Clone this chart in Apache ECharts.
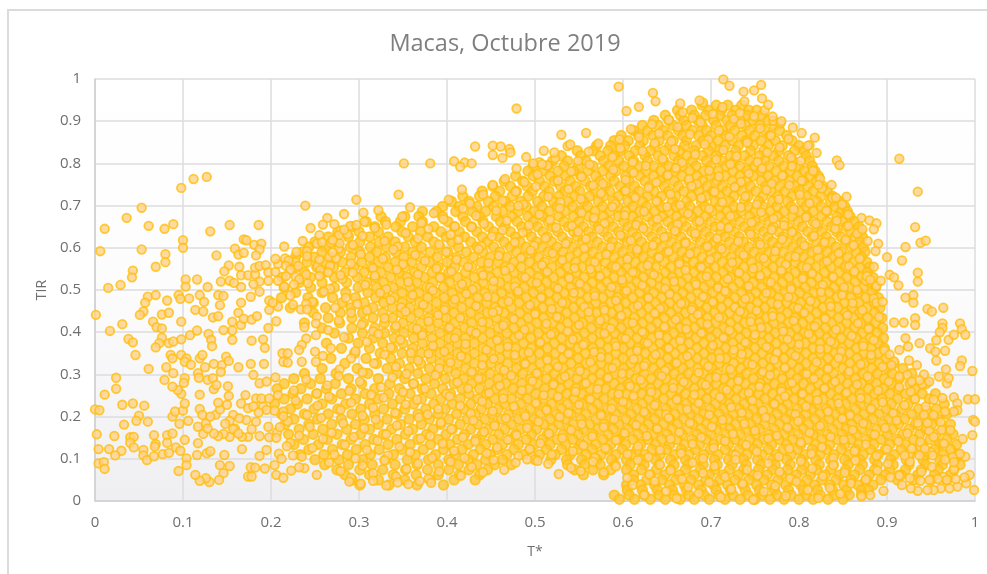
<!DOCTYPE html>
<html><head><meta charset="utf-8">
<style>html,body{margin:0;padding:0;background:#fff}#c{width:987px;height:574px}</style>
<script src="https://cdn.jsdelivr.net/npm/echarts@6/dist/echarts.min.js"></script>
</head><body><div id="c"></div>
<script>
const titleText = "Macas, Octubre 2019";
const xName = "T*";
const yName = "TIR";
// Isolated points: [T*, TIR] in thousandths
const sparseLeft = [[6,592],[11,645],[36,671],[53,695],[61,652],[79,645],[89,656],[98,742],[112,763],[127,768],[131,639],[153,654],[186,654],[239,700],[297,714],[345,726],[53,596],[100,618],[100,600],[80,585],[80,566],[69,555],[43,546],[42,530],[29,512],[15,505],[103,525],[103,508],[116,525],[128,507],[138,582],[152,558],[147,544],[143,520],[153,522],[164,555],[159,598],[163,584],[169,588],[169,620],[172,618],[181,607],[189,610],[187,596],[183,582],[215,603],[229,590],[236,616],[241,580],[245,647],[255,630],[264,671],[272,656],[259,655],[283,680],[305,683],[290,652],[297,654],[166,535],[174,535],[182,537],[182,553],[187,557],[194,559],[197,542],[205,543],[208,562],[205,574],[216,575],[220,570],[217,557],[222,548],[217,533],[208,522],[197,522],[187,520],[180,514],[166,507],[158,517],[231,557],[232,525],[226,513],[240,537],[255,572],[255,533],[267,557],[265,542],[279,535],[274,575],[270,589],[278,611],[277,630],[270,618],[252,610],[258,613],[287,632],[283,643],
[1,441],[31,419],[17,403],[38,384],[43,376],[46,346],[61,313],[24,292],[24,266],[11,252],[0,217],[5,215],[31,228],[43,231],[56,226],[50,202],[47,190],[60,188],[33,181],[2,158],[22,154],[40,151],[44,152],[40,138],[67,156],[69,135],[68,129],[4,123],[16,123],[30,119],[23,108],[44,127],[55,121],[55,108],[59,97],[67,106],[4,89],[10,92],[11,76],[77,111],[84,114],[82,156],[88,160],[82,138],[92,127],[97,119],[95,71],[102,145],[104,101],[104,85],[96,183],[106,190],[88,200],[91,212],[100,214],[102,231],[98,254],[94,263],[88,271],[79,287],[81,317],[89,303],[86,346],[88,338],[98,346],[104,338],[102,330],[109,323],[102,291],[101,280],[119,338],[122,346],[125,317],[117,303],[118,292],[119,252],[128,287],[134,291],[135,265],[138,275],[151,272],[152,249],[144,322],[143,306],[135,325],[149,342],[152,332],[163,317],[177,325],[180,299],[192,325],
[60,484],[57,470],[55,449],[51,441],[69,488],[82,475],[76,442],[84,446],[66,425],[70,412],[76,409],[76,387],[73,374],[69,364],[84,374],[89,378],[98,383],[98,425],[95,488],[97,479],[107,480],[108,393],[116,404],[114,453],[123,449],[119,488],[124,472],[140,488],[146,486],[142,464],[134,435],[140,438],[129,396],[132,382],[133,367],[146,405],[156,404],[156,382],[156,425],[163,446],[166,470],[177,484],[187,496],[166,417],[169,432],[178,430],[184,438],[178,380],[191,383],[193,363],[197,410],[206,426],[198,453],[198,475],[202,470],[225,465],[240,467],[241,454],[251,421],[251,393],[240,385],[235,370],[232,358],[235,330],[213,350],[219,350],[214,330],[219,328],[250,354],[251,330],[259,344],
[119,218],[122,204],[117,176],[123,159],[117,137],[116,109],[127,113],[131,118],[147,109],[142,85],[153,83],[146,66],[141,50],[130,45],[126,54],[119,48],[114,62],[167,123],[174,58],[178,58],[177,80],[182,79],[187,107],[193,77],[195,121],[198,151],[187,154],[197,176],[183,188],[174,152],[167,152],[159,172],[153,152],[146,159],[140,154],[135,160],[126,184],[137,204],[142,217],[150,228],[166,231],[171,251],[174,220],[172,192],[157,204],[153,190],[164,196],[157,170],[140,233],[183,243],[180,224],[191,224],[195,216],[189,243],[198,243],[187,279],[195,283],[205,293],[208,251],[204,214],[214,201],[148,183],[131,200],[128,172],[163,160],[178,170],[186,210],[210,175],[206,150],[218,130],[212,100],[204,85],[206,62],[214,55],[223,72],[232,80],[225,108]];
const sparseRight = [[595,982],[634,967],[637,947],[604,924],[618,934],[665,942],[687,949],[714,999],[757,986],[749,973],[721,984],[737,970],[758,954],[765,939],[770,911],[780,900],[793,885],[818,861],[810,842],[820,825],[843,807],[846,796],[914,811],[935,733],[822,749],[837,749],[854,721],[842,719],[871,671],[880,665],[888,658],[885,644],[872,644],[856,652],[862,606],[878,616],[890,610],[887,592],[900,578],[921,602],[932,649],[938,612],[944,617],[917,570],[885,555],[877,533],[881,524],[893,522],[903,536],[908,530],[913,511],[935,541],[935,520],[866,500],[921,482],[930,488],[888,470],[895,472],[946,455],[964,458],[930,470],[479,930],[432,840],[452,842],[461,840],[471,834],[472,826],[452,820],[463,813],[530,868],[510,830],[522,826],[558,872],[540,845],[498,800],[508,798],[351,800],[381,800],[408,805],[420,802],[415,792],[428,800],
[932,433],[932,417],[919,423],[908,423],[951,449],[963,421],[963,410],[960,400],[970,382],[976,394],[983,421],[985,407],[989,394],[956,381],[949,362],[955,354],[966,356],[956,333],[985,333],[983,320],[967,312],[997,308],[937,374],[921,386],[924,366],[914,358],[903,347],[905,322],[925,333],[934,322],[923,299],[914,295],[942,300],[937,286],[948,283],[959,295],[968,279],[970,291],[928,283],[976,246],[980,231],[980,215],[992,241],[1000,241],[998,192],[1000,188],[997,156],[986,147],[963,244],[953,240],[944,224],[942,204],[953,204],[966,212],[976,212],[935,185],[946,185],[962,168],[972,168],[953,152],[938,140],[965,136],[989,105],[983,112],[976,92],[966,98],[952,108],[943,124],[937,108],[928,124],[920,108],[994,62],[990,42],[999,26],[980,34],[971,30],[961,30],[953,26],[946,26],[935,24],[927,30],[917,38],[896,24],[881,14],[988,56],[978,52],[968,50],[958,52],[948,50],[938,48],[926,54],[914,60],[904,56]];
// Dense core: individual points cannot be resolved in the picture. These values are
// hand-typed estimates that follow its outline and density, not exact readings.
const denseLevels = [938,926,914,902,890,878,866,854,842,830,818,806,794,782,770,758,746,734,722,710,698,686,674,662,650,638,626,614,602,590,578,566,554,542,530,518,506,494,482,470,458,446,434,422,410,398,386,374,362,350,338,326,314,302,290,278,266,254,242,230,218,206,194,182,170,158,146,134,122,110,98,86,74,62,50,38,26,14,4];
const denseT = [
[690,706,719,735],
[662,678,697,712,728,743,752],
[648,665,681,694,710,724,741,758],
[635,652,669,685,703,718,733,748,765],
[622,640,657,672,690,706,722,739,755,772],
[612,628,646,663,679,695,713,727,744,761,778],
[598,618,634,651,668,686,700,717,735,750,767,786],
[590,606,623,641,657,672,691,708,724,740,757,773,792],
[570,586,602,619,636,653,670,683,700,716,731,748,765,781,800],
[548,566,583,597,614,631,647,664,681,697,710,728,745,760,777,795,806],
[530,552,574,590,607,625,640,658,673,690,706,722,738,755,771,788,808],
[520,537,558,578,595,612,628,646,663,679,695,712,727,744,761,777,793,812],
[498,515,533,549,566,584,601,618,635,652,668,683,700,717,733,750,766,783,800,815],
[492,509,526,544,560,577,592,610,626,643,659,676,692,708,725,741,757,774,790,806,818],
[478,498,517,535,552,569,586,603,619,635,650,667,684,700,716,733,748,765,782,798,812,822],
[465,486,505,522,540,557,574,590,607,625,642,658,675,690,707,724,740,757,772,789,805,820],
[452,472,491,511,529,546,563,580,597,613,630,647,663,680,696,713,730,745,762,778,795,810,827],
[440,460,479,497,516,534,551,568,585,602,618,635,652,669,686,702,718,735,751,768,784,800,816,832],
[418,437,455,474,492,510,527,545,562,578,595,612,628,644,660,678,694,710,726,742,759,776,792,809,825,838],
[405,425,447,466,484,503,521,538,555,572,589,606,622,639,656,672,689,705,721,738,754,770,787,803,820,836,846],
[395,414,434,453,472,490,508,525,543,560,577,594,611,627,643,660,676,693,710,726,742,759,775,791,808,825,841,852],
[372,388,410,429,444,463,481,499,516,534,551,568,585,603,619,636,652,669,685,701,718,734,750,767,783,800,816,832,848,855],
[325,352,368,395,418,437,456,474,492,509,527,544,561,578,595,611,628,645,661,678,694,711,727,744,760,776,793,809,826,843,858],
[308,330,347,372,401,421,441,461,480,498,515,533,550,567,584,601,617,634,651,667,684,700,717,733,750,766,783,799,816,832,849,863],
[292,318,342,361,385,408,428,447,466,485,503,520,538,555,572,589,606,622,639,656,672,689,705,722,738,755,771,788,804,821,837,854,868],
[276,300,322,349,370,393,414,434,453,472,491,509,526,544,561,578,595,611,628,644,661,678,694,711,727,744,760,777,793,810,826,843,859,870],
[265,288,312,333,356,378,399,420,440,459,478,496,514,531,548,565,583,600,616,633,650,666,683,699,716,732,749,765,782,798,815,831,848,864,872],
[250,275,301,323,341,364,385,406,427,446,465,483,502,519,537,554,571,588,605,621,638,655,671,688,704,721,737,754,770,787,803,820,836,853,869],
[243,262,290,313,331,352,371,392,413,434,453,472,490,508,525,543,560,577,594,611,627,644,661,677,694,710,727,743,760,776,793,809,826,842,859,873],
[236,258,279,301,320,342,361,381,401,422,441,460,479,497,515,532,549,566,583,600,617,633,650,667,683,700,716,733,749,766,782,799,815,832,848,865,875],
[228,249,268,291,312,330,351,370,389,411,430,449,468,486,504,522,539,556,573,590,607,623,640,657,673,690,706,723,739,756,772,789,805,822,838,855,871],
[222,241,262,281,303,322,341,360,380,400,419,439,458,476,494,511,529,546,563,580,597,614,630,647,664,680,697,713,730,746,763,779,796,812,829,845,862,877],
[228,252,271,294,314,333,352,371,390,409,428,447,466,484,502,519,536,553,570,587,604,621,637,654,671,687,704,720,737,753,770,786,803,819,836,852,869,880],
[238,260,284,306,325,345,363,383,402,421,439,457,476,494,512,529,547,564,581,598,614,631,648,664,681,697,714,730,747,763,780,796,813,829,846,862,878],
[213,245,272,298,318,336,355,374,393,412,431,449,468,486,504,521,538,556,573,590,606,623,640,656,673,689,706,722,739,755,772,788,805,821,838,854,871,884],
[232,258,286,309,328,347,366,384,403,422,441,460,478,496,513,531,548,565,582,599,616,632,649,666,682,699,715,732,748,765,781,798,814,831,847,864,880],
[215,245,272,299,320,339,358,377,396,414,433,452,470,488,506,523,541,558,575,592,609,625,642,659,675,692,708,725,741,758,774,791,807,824,840,857,873,887],
[228,258,285,310,329,349,368,387,406,425,443,462,480,498,516,533,551,568,585,602,619,635,652,668,685,702,718,735,751,768,784,801,817,834,850,867,883],
[212,242,270,296,319,340,359,378,397,416,435,454,472,490,508,525,543,560,577,594,611,628,644,661,677,694,711,727,744,760,777,793,810,826,843,859,876,890],
[248,281,306,328,349,369,388,407,426,445,463,482,500,517,535,552,569,586,603,620,637,653,670,687,703,720,736,753,769,786,802,819,835,852,868,885],
[222,262,291,316,338,358,378,398,417,436,455,473,491,509,527,544,561,578,595,612,629,646,662,679,695,712,728,745,761,778,794,811,827,844,860,877,892],
[248,279,304,327,348,368,388,408,427,446,465,483,501,518,536,553,570,587,604,621,638,654,671,688,704,721,737,754,770,787,803,820,836,853,869,886],
[265,292,316,338,359,379,399,418,437,456,474,492,510,528,545,562,579,596,613,630,647,663,680,696,713,730,746,763,779,796,812,829,845,862,878,894],
[238,278,305,329,350,370,390,409,428,447,466,484,502,520,537,554,572,589,606,622,639,656,672,689,705,722,738,755,771,788,804,821,837,854,870,887],
[258,292,318,341,361,381,401,420,439,458,476,494,512,529,547,564,581,598,615,632,648,665,682,698,715,731,748,764,781,797,814,830,847,863,880,895],
[272,304,329,351,372,392,411,430,449,468,486,504,522,539,556,574,591,607,624,641,658,674,691,707,724,740,757,773,790,806,823,839,856,872,889],
[288,316,340,362,383,402,421,440,459,477,495,513,530,548,565,582,599,616,633,650,666,683,700,716,733,749,766,782,799,815,832,848,865,881,896],
[263,299,327,350,372,392,412,431,450,469,487,505,522,540,557,574,591,608,625,642,658,675,692,708,725,741,758,774,791,807,824,840,857,873,890],
[280,312,338,361,382,402,421,441,460,478,496,514,531,549,566,583,600,617,634,650,667,684,700,717,733,750,766,783,799,816,832,849,865,882,897],
[295,324,349,371,392,412,431,450,469,487,505,523,540,557,575,592,609,625,642,659,675,692,709,725,742,758,775,791,808,824,841,857,874,890],
[268,308,336,360,382,402,422,441,460,478,496,514,532,549,566,583,600,617,634,651,668,684,701,717,734,750,767,783,800,816,833,849,866,882,899],
[284,320,346,370,392,412,431,450,469,488,506,523,541,558,575,592,609,626,643,659,676,693,709,726,742,759,775,792,808,825,841,858,874,891,908],
[258,298,332,357,380,401,421,441,460,479,497,515,532,550,567,584,601,618,635,651,668,685,701,718,734,751,767,784,800,817,833,850,866,883,900,918],
[238,274,310,343,367,389,410,430,449,468,486,504,522,539,557,574,591,607,624,641,658,674,691,707,724,740,757,773,790,806,823,839,856,872,889,906,928],
[226,256,288,322,352,376,398,419,439,458,476,495,513,530,548,565,582,599,615,632,649,666,682,699,715,732,748,765,781,798,814,831,847,864,880,897,914],
[215,245,273,303,335,362,386,408,428,448,467,485,503,521,538,556,573,590,606,623,640,657,673,690,706,723,739,756,772,789,805,822,838,855,871,888,905,926,944],
[207,234,263,291,318,346,372,395,417,437,456,475,493,511,529,546,563,580,597,614,631,647,664,681,697,714,730,747,763,780,796,813,829,846,862,879,896,913,932],
[225,252,280,307,334,358,382,404,425,445,464,483,501,519,536,553,571,588,604,621,638,655,671,688,704,721,737,754,770,787,803,820,836,853,869,886,903,921,940,955],
[215,241,269,296,322,347,371,393,415,435,454,473,491,509,527,544,561,578,595,612,629,646,662,679,695,712,728,745,761,778,794,811,827,844,860,877,894,912,931,948],
[204,230,258,285,312,338,362,385,406,427,446,465,484,502,519,537,554,571,588,605,622,638,655,672,688,705,721,738,754,771,787,804,820,837,853,870,887,905,924,965],
[222,249,276,302,328,352,376,398,419,439,458,477,495,513,530,548,565,582,599,616,632,649,666,682,699,715,732,748,765,781,798,814,831,847,864,881,899,917,936,956],
[212,238,265,292,318,343,367,390,411,432,451,470,488,506,524,541,558,575,592,609,626,642,659,676,692,709,725,742,758,775,791,808,824,841,857,874,891,909,928,947,968],
[226,253,280,306,332,357,380,402,423,443,462,481,499,517,534,552,569,586,603,619,636,653,669,686,702,719,735,752,768,785,801,818,834,851,867,884,902,920,939,958],
[216,243,269,296,322,347,371,393,415,435,454,473,492,510,527,544,562,579,595,612,629,646,662,679,695,712,728,745,761,778,794,811,827,844,860,877,895,913,932,951,972],
[232,259,286,312,337,361,384,406,427,447,466,484,502,520,538,555,572,589,606,623,639,656,673,689,706,722,739,755,772,788,805,821,838,854,871,888,906,925,944,964],
[220,248,275,302,328,353,377,399,420,440,459,478,496,514,532,549,566,583,600,617,634,650,667,684,700,717,733,750,766,783,799,816,832,849,865,882,900,918,937,956,975],
[237,264,291,317,343,367,390,412,433,452,471,490,508,525,543,560,577,594,611,628,644,661,678,694,711,727,744,760,777,793,810,826,843,859,876,893,911,930,949,968],
[226,254,281,307,333,358,381,403,424,444,463,481,499,517,535,552,569,586,603,620,637,653,670,687,703,720,736,753,769,786,802,819,835,852,868,885,903,921,940,960,979],
[243,270,297,323,349,373,396,417,438,457,476,494,513,530,548,565,582,599,616,633,649,666,682,699,716,732,749,765,782,798,815,831,848,864,881,898,916,935,954,972],
[233,260,287,313,339,364,387,409,430,449,468,487,505,523,540,558,575,592,609,625,642,659,675,692,708,725,741,758,774,791,807,824,840,857,873,890,908,926,945,964,981],
[250,277,304,330,355,379,402,424,444,463,500,518,536,553,570,587,604,621,637,654,671,687,704,720,737,753,770,786,803,819,836,852,869,886,904,922,941,960,977],
[261,288,315,341,366,390,413,434,454,473,537,556,574,591,608,624,641,658,674,691,707,724,740,757,773,790,806,823,839,856,872,889,907,925,944,963,983],
[275,301,327,353,378,402,425,446,545,566,586,604,621,638,654,671,688,704,721,737,754,770,787,803,820,836,853,869,886,903,921,939,958,976],
[284,312,339,365,390,414,437,555,578,612,631,648,664,681,698,714,731,747,764,780,797,813,830,846,863,880,898,916,935,954,972],
[292,322,352,381,408,432,612,627,644,660,677,694,710,727,743,760,776,793,809,826,842,859,876,893,912,931,950,968],
[301,334,366,396,604,620,636,653,670,686,703,719,736,752,769,785,802,818,835,851,867,884],
[605,622,639,656,672,689,706,722,739,755,772,788,805,821,838,854,871,879],
[590,607,624,641,658,675,692,709,725,742,758,775,791,808,824,840,857,871],
[596,613,631,648,665,681,698,716,733,750,767,783,800,816,833,850]
];
// More hand-typed estimates for the dense core, alternating T*, TIR in thousandths
const cloudPairs = [
652,903,668,921,679,908,691,944,702,917,713,933,726,905,738,947,749,912,761,926,771,901,733,919,
596,857,609,881,618,862,633,893,641,871,655,852,662,886,676,869,688,897,697,856,709,878,721,863,734,894,742,851,756,883,768,866,779,895,788,858,803,872,
490,815,505,803,523,812,537,841,549,806,561,828,572,847,588,815,597,836,611,803,622,829,636,848,645,811,659,834,667,802,682,821,693,845,706,809,714,832,729,817,741,849,753,803,764,826,778,838,791,814,802,806,812,843,
466,763,479,788,488,756,503,774,514,795,526,759,541,781,553,768,562,797,577,752,589,785,603,761,612,778,626,794,638,755,651,772,660,789,675,763,684,751,698,783,709,769,722,798,734,756,743,776,758,788,769,752,781,771,792,793,803,759,816,782,824,764,
402,714,417,738,426,705,441,726,452,749,463,712,478,733,487,703,501,745,515,721,529,708,538,739,552,716,566,748,575,729,591,704,603,735,614,719,629,742,638,710,654,727,665,701,678,746,689,718,704,733,713,708,727,744,739,722,752,703,763,737,777,715,789,748,801,726,812,706,826,741,838,718,849,703,
306,662,322,689,331,655,349,674,358,696,371,659,385,682,396,668,409,651,418,693,433,676,442,657,456,688,468,664,481,699,493,653,505,679,517,666,528,694,542,652,553,683,567,671,579,658,588,697,602,677,615,654,624,686,639,668,650,697,662,656,674,681,687,663,698,692,711,651,722,675,734,696,746,660,757,684,771,669,783,653,794,691,808,672,819,657,831,688,843,664,856,679,
268,612,279,641,293,607,304,628,318,647,329,616,344,603,353,635,367,622,379,645,391,608,404,631,413,619,428,649,439,604,451,627,463,642,477,613,486,636,499,605,512,623,524,648,535,610,549,638,558,621,573,644,586,602,597,630,609,617,623,646,634,606,647,625,659,640,671,611,682,634,696,603,707,622,720,647,731,615,745,632,756,608,769,643,781,620,792,637,806,605,817,628,829,613,841,645,853,619,866,634,
228,566,241,592,253,557,266,578,277,598,291,563,302,585,316,552,327,574,339,596,350,561,364,583,375,569,388,551,399,590,411,572,424,555,436,597,447,564,459,581,472,553,484,576,495,594,508,559,520,587,531,571,545,552,556,599,568,566,581,584,592,555,605,573,616,596,628,558,641,577,652,591,664,562,676,586,689,554,699,572,712,597,724,565,737,583,748,551,760,575,773,592,785,560,796,579,809,553,821,595,832,568,845,587,857,556,869,574,
215,508,228,531,242,516,256,547,267,503,281,526,293,541,307,512,318,534,331,502,343,548,356,519,367,537,381,506,392,529,405,544,417,514,429,501,441,535,453,521,466,546,477,508,489,530,502,517,514,543,526,504,539,528,551,515,563,549,574,533,587,507,599,524,611,542,622,511,635,536,648,503,658,520,671,547,683,513,695,532,708,505,719,526,732,541,743,509,756,534,768,518,780,546,791,502,804,527,815,539,827,512,839,531,851,506,863,544,876,522,888,510,
208,461,222,487,234,454,247,472,260,496,273,458,285,481,298,467,309,452,324,493,336,476,348,459,361,488,373,465,384,499,397,453,409,478,422,491,433,462,446,484,458,451,470,473,481,497,494,464,507,482,519,455,531,470,544,493,556,460,568,486,579,452,592,475,604,498,617,463,629,481,642,456,653,490,666,468,678,453,691,484,702,472,716,497,727,459,739,479,752,451,763,493,776,466,788,483,799,457,813,474,825,495,836,461,849,488,861,469,872,452,885,480,
238,412,252,437,265,405,277,428,291,446,303,418,316,402,329,433,342,415,353,449,366,408,379,426,390,441,403,411,415,434,427,403,440,424,452,447,464,416,476,431,488,406,500,443,513,420,525,436,537,402,550,417,561,448,574,428,586,409,598,439,611,422,622,401,636,445,647,413,660,430,672,407,685,442,696,419,709,435,721,404,733,449,745,425,757,411,770,438,782,402,794,427,806,446,818,414,830,432,842,406,855,440,867,421,879,408,891,436,
268,362,283,388,296,355,309,377,322,396,336,364,347,382,359,351,372,393,384,368,397,354,409,386,421,372,433,398,445,358,457,381,469,366,482,392,493,352,506,376,518,395,530,361,543,383,555,370,567,353,579,397,592,367,603,385,616,356,628,374,641,393,652,362,665,380,677,351,689,398,702,369,714,387,726,358,739,376,750,394,763,365,775,352,787,383,800,371,811,396,824,360,836,378,848,354,860,391,873,367,885,381,897,357,
278,312,291,338,304,305,317,326,329,347,342,318,354,301,367,333,379,349,391,314,404,328,416,343,428,306,440,322,453,337,465,310,477,346,489,325,502,303,514,334,526,318,538,349,551,308,563,329,575,341,588,315,599,302,612,336,624,320,637,347,648,309,661,327,673,343,686,304,697,319,710,338,722,312,735,348,747,323,759,306,772,335,784,316,796,344,809,301,820,329,833,313,845,339,857,307,870,324,882,346,895,318,908,331,
226,262,240,288,252,255,264,274,277,296,289,261,301,283,314,252,325,270,338,293,350,258,362,278,375,266,387,298,399,254,412,281,424,267,436,290,448,256,460,273,473,297,485,262,497,284,510,251,521,276,534,295,546,259,558,279,571,265,583,292,595,253,608,272,620,287,632,258,644,296,657,268,669,282,681,252,694,275,706,293,718,263,731,285,743,256,755,271,767,298,780,260,792,280,804,254,817,290,829,267,841,283,854,257,866,276,878,295,890,262,902,283,914,270,927,259,940,277,
214,212,228,238,241,204,253,226,266,247,279,216,291,233,304,202,316,221,328,245,341,209,353,229,366,240,378,205,390,218,403,248,415,226,427,207,440,236,452,213,464,243,476,224,489,201,501,232,513,215,526,247,538,208,550,228,563,241,575,203,587,219,600,235,612,249,624,211,636,227,649,205,661,240,673,217,686,232,698,204,710,246,723,222,735,209,747,238,759,214,772,230,784,248,796,206,808,224,821,239,833,212,845,231,858,203,870,244,882,218,895,234,907,208,920,227,932,242,945,216,
207,163,219,189,232,155,244,176,257,197,269,162,282,184,294,152,306,172,319,193,331,158,343,179,356,166,368,198,381,154,393,186,405,170,418,151,430,191,442,164,454,178,467,196,479,156,491,173,504,188,516,160,528,199,541,168,553,182,565,153,578,175,590,194,602,161,615,180,627,154,639,171,652,197,664,163,676,185,689,151,701,176,713,192,725,159,738,183,750,167,762,198,775,155,787,174,799,189,812,162,824,178,836,152,849,195,861,168,873,184,886,157,898,173,911,191,923,160,936,179,948,166,961,187,
209,112,222,138,235,105,247,126,259,147,272,110,284,133,296,101,309,121,321,143,333,108,346,129,358,116,370,148,383,103,395,136,408,119,420,102,432,141,445,113,457,127,469,145,481,107,494,123,506,137,519,110,531,149,543,118,555,132,568,103,580,125,592,144,605,111,617,130,629,104,642,121,654,147,666,113,679,135,691,101,703,126,716,142,728,109,740,133,752,117,765,148,777,105,789,124,802,139,814,112,826,128,839,102,851,145,863,118,876,134,888,107,900,123,913,141,925,110,938,129,950,116,963,137,975,104,
238,78,252,62,266,91,279,71,291,55,304,84,316,66,329,96,342,58,354,76,367,89,379,53,391,70,404,93,416,60,428,81,441,68,453,97,465,74,478,91,491,99,503,95,515,88,527,64,541,79,552,71,566,93,578,68,592,82,605,55,617,97,630,63,642,86,654,72,667,52,679,91,691,66,704,83,716,57,728,98,741,74,753,61,765,89,778,69,790,53,802,94,815,77,827,59,839,85,852,67,864,96,876,51,889,72,901,88,913,62,926,93,939,69,951,81,964,57,976,75,
611,38,624,14,636,47,649,23,661,6,674,33,686,18,698,44,711,9,723,28,736,41,748,3,760,22,773,36,785,12,797,46,810,26,822,7,835,31,847,17,859,42,871,11,
289,46,302,41,316,48,331,37,344,44,356,40,369,47,382,43
];
const cloudPoints = [];
for (let i = 0; i + 1 < cloudPairs.length; i += 2) cloudPoints.push([cloudPairs[i], cloudPairs[i + 1]]);
const markerStyle = { color: "#FFD28A", borderColor: "#FFBE0B", borderWidth: 1.8 };
const option = {
  animation: false,
  backgroundColor: "#ffffff",
  title: { text: titleText, left: 500, top: 27, textAlign: "center",
    textStyle: { fontFamily: "Open Sans", fontSize: 23.5, fontWeight: "normal", color: "#7f7f7f" } },
  grid: { left: 95, right: 12, top: 79, bottom: 73, show: true, borderWidth: 0,
    backgroundColor: new echarts.graphic.LinearGradient(0, 0, 0, 1, [
      { offset: 0, color: "#ffffff" }, { offset: 0.5, color: "#fcfcfd" }, { offset: 1, color: "#efeff2" }]) },
  xAxis: { type: "value", min: 0, max: 1, interval: 0.1, name: xName, nameLocation: "middle", nameGap: 44,
    nameTextStyle: { fontFamily: "Open Sans", fontSize: 14, color: "#6f6f6f" },
    axisLine: { lineStyle: { color: "#cfcfd2", width: 1.5 } }, axisTick: { show: false },
    axisLabel: { fontFamily: "Open Sans", fontSize: 15, color: "#6f6f6f", margin: 14,
      formatter: v => String(+v.toFixed(1)) },
    splitLine: { lineStyle: { color: "#dcdcdf", width: 1.5 } } },
  yAxis: { type: "value", min: 0, max: 1, interval: 0.1, name: yName, nameLocation: "middle", nameGap: 45,
    nameTextStyle: { fontFamily: "Open Sans", fontSize: 14, color: "#6f6f6f" },
    axisLine: { show: true, lineStyle: { color: "#cfcfd2", width: 1.5 } }, axisTick: { show: false },
    axisLabel: { fontFamily: "Open Sans", fontSize: 15, color: "#6f6f6f", margin: 14,
      formatter: v => String(+v.toFixed(1)) },
    splitLine: { lineStyle: { color: "#dcdcdf", width: 1.5 } } },
  graphic: [{ type: "polyline", silent: true, shape: { points: [[8, 574], [8, 10], [987, 10]] },
    style: { stroke: "#dbdbdb", lineWidth: 2, fill: null } }],
  series: [{
    type: "scatter", symbol: "circle", symbolSize: 9.6, clip: false, progressive: 0,
    itemStyle: { color: "#FFC535", borderColor: "#FFBE0B", borderWidth: 1.8 },
    data: denseLevels.flatMap((y, i) => denseT[i].map(x => [x / 1000, y / 1000]))
  }, {
    type: "scatter", symbol: "circle", symbolSize: 8.6, clip: false, progressive: 0,
    itemStyle: markerStyle,
    data: [].concat(cloudPoints, sparseLeft, sparseRight).map(p => [p[0] / 1000, p[1] / 1000])
  }]
};
echarts.init(document.getElementById("c"), null, { renderer: "canvas" }).setOption(option);
</script></body></html>
